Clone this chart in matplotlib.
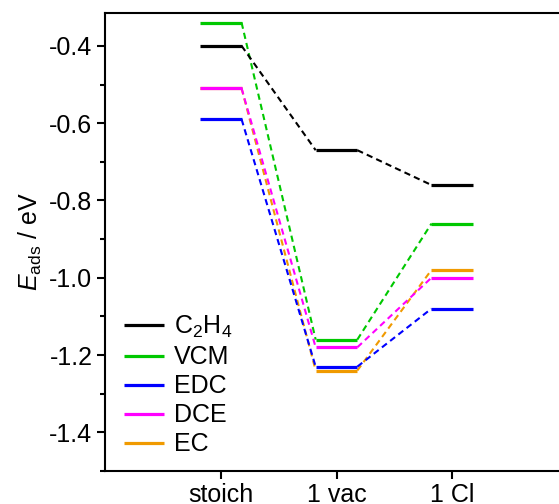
import matplotlib.pyplot as plt
from matplotlib.ticker import MultipleLocator

plt.rcParams['font.family'] = ['Liberation Sans', 'DejaVu Sans']
plt.rcParams['mathtext.fontset'] = 'custom'
plt.rcParams['mathtext.rm'] = 'Liberation Sans'
plt.rcParams['mathtext.it'] = 'Liberation Sans:italic'

states = ["stoich", "1 vac", "1 Cl"]
species = ["C$_2$H$_4$", "VCM", "EDC", "DCE", "EC"]
colors = ["black", "#00c800", "#0000ff", "#ff00ff", "#f09a00"]
# adsorption energies (eV) for stoich, 1 vac, 1 Cl
c2h4 = [-0.40, -0.67, -0.76]
vcm = [-0.34, -1.16, -0.86]
edc = [-0.59, -1.23, -1.08]
dce = [-0.51, -1.18, -1.00]
ec = [-0.51, -1.24, -0.98]
energies = [c2h4, vcm, edc, dce, ec]

half = 0.18
pos = [1, 2, 3]

fig = plt.figure(figsize=(5.59, 5.04), dpi=100)
ax = fig.add_axes([105 / 559, 33 / 504, 463 / 559, 458 / 504])

# draw in reverse so C2H4 ends on top, EC sits under DCE
for name, col, vals in reversed(list(zip(species, colors, energies))):
    for i, (x, e) in enumerate(zip(pos, vals)):
        ax.plot([x - half, x + half], [e, e], color=col, lw=2.3,
                label=name if i == 0 else None, solid_capstyle='butt')
        if i < len(pos) - 1:
            ax.plot([x + half, pos[i + 1] - half], [e, vals[i + 1]],
                    color=col, lw=1.5, ls=(0, (3, 2)))

handles, labels = ax.get_legend_handles_labels()
order = [labels.index(s) for s in species]
ax.legend([handles[k] for k in order], [labels[k] for k in order],
          loc='lower left', bbox_to_anchor=(0.02, 0.01), frameon=False,
          fontsize=18, handlelength=1.6, handletextpad=0.4, labelspacing=0.2,
          borderaxespad=0.0)

ax.set_xlim(0, 4)
ax.set_ylim(-1.5, -0.315)
ax.set_xticks(pos)
ax.set_xticklabels(states)
ax.yaxis.set_minor_locator(MultipleLocator(0.1))
ax.set_yticks([-0.4, -0.6, -0.8, -1.0, -1.2, -1.4])
ax.set_yticklabels(["-0.4", "-0.6", "-0.8", "-1.0", "-1.2", "-1.4"])
ax.tick_params(axis='both', which='major', labelsize=18, length=6, width=1.5, direction='out', pad=3)
ax.tick_params(axis='y', which='minor', length=3.5, width=1.5, direction='out')
ax.set_ylabel(r"$E_{\mathrm{ads}}$ / eV", fontsize=18, labelpad=4)
for s in ax.spines.values():
    s.set_linewidth(1.5)

fig.savefig("out.png", dpi=100)
